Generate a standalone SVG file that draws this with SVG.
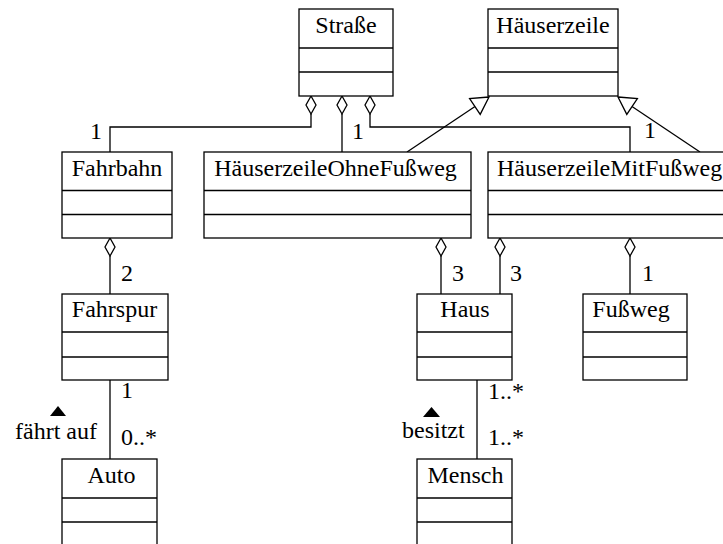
<svg xmlns="http://www.w3.org/2000/svg" width="723" height="544" viewBox="0 0 723 544">
<style>
.box{fill:#fff;stroke:#000;stroke-width:1.3}
.ln{fill:none;stroke:#000;stroke-width:1.3}
.dia{fill:#fff;stroke:#000;stroke-width:1.3}
.tri{fill:#fff;stroke:#000;stroke-width:1.3}
text{font-family:"Liberation Serif","Times New Roman",serif;font-size:24px;fill:#000}
.c{text-anchor:middle}
</style>
<rect width="723" height="544" fill="#fff"/>
<g id="connectors">
  <polyline class="ln" points="311,114 311,127 110,127 110,152"/>
  <line class="ln" x1="342" y1="114" x2="342" y2="152"/>
  <polyline class="ln" points="370,114 370,127 630,127 630,152"/>
  <line class="ln" x1="407" y1="152" x2="475" y2="106.5"/>
  <line class="ln" x1="700" y1="152" x2="632" y2="106.5"/>
  <line class="ln" x1="110" y1="256" x2="110" y2="294"/>
  <line class="ln" x1="441" y1="256" x2="441" y2="294"/>
  <line class="ln" x1="500" y1="256" x2="500" y2="294"/>
  <line class="ln" x1="630" y1="256" x2="630" y2="294"/>
  <line class="ln" x1="110" y1="380" x2="110" y2="459"/>
  <line class="ln" x1="477" y1="380" x2="477" y2="459"/>
  <polygon class="dia" points="311,96 316,105 311,114 306,105"/>
  <polygon class="dia" points="342,96 347,105 342,114 337,105"/>
  <polygon class="dia" points="370,96 375,105 370,114 365,105"/>
  <polygon class="dia" points="110,238 115,247 110,256 105,247"/>
  <polygon class="dia" points="441,238 446,247 441,256 436,247"/>
  <polygon class="dia" points="500,238 505,247 500,256 495,247"/>
  <polygon class="dia" points="630,238 635,247 630,256 625,247"/>
  <polygon class="tri" points="489,97 469.6,98.6 480.2,114.4"/>
  <polygon class="tri" points="618,97 637.4,98.6 626.8,114.4"/>
  <text x="90" y="139">1</text>
  <text x="352" y="139">1</text>
  <text x="644" y="138">1</text>
  <text x="121" y="281">2</text>
  <text x="452" y="281">3</text>
  <text x="510" y="281">3</text>
  <text x="642" y="281">1</text>
  <text x="121" y="398">1</text>
  <text x="121" y="445">0..*</text>
  <text x="15" y="439">fährt auf</text>
  <polygon points="50,416 66,416 58,406" fill="#000"/>
  <text x="488" y="399">1..*</text>
  <text x="488" y="445">1..*</text>
  <text x="402" y="438">besitzt</text>
  <polygon points="423,417 440,417 431.5,407" fill="#000"/>
</g>
<g id="Strasse">
  <rect class="box" x="299" y="9" width="94" height="87"/>
  <line class="ln" x1="299" y1="48" x2="393" y2="48"/>
  <line class="ln" x1="299" y1="72" x2="393" y2="72"/>
  <text class="c" x="346" y="33">Straße</text>
</g>
<g id="Haeuserzeile">
  <rect class="box" x="488" y="9" width="130" height="87"/>
  <line class="ln" x1="488" y1="48" x2="618" y2="48"/>
  <line class="ln" x1="488" y1="72" x2="618" y2="72"/>
  <text class="c" x="553" y="33">Häuserzeile</text>
</g>
<g id="Fahrbahn">
  <rect class="box" x="62" y="152" width="110" height="86"/>
  <line class="ln" x1="62" y1="190.5" x2="172" y2="190.5"/>
  <line class="ln" x1="62" y1="214.5" x2="172" y2="214.5"/>
  <text class="c" x="117" y="175.5">Fahrbahn</text>
</g>
<g id="HaeuserzeileOhneFussweg">
  <rect class="box" x="204" y="152" width="267" height="86"/>
  <line class="ln" x1="204" y1="190.5" x2="471" y2="190.5"/>
  <line class="ln" x1="204" y1="214.5" x2="471" y2="214.5"/>
  <text class="c" x="335.5" y="175.5">HäuserzeileOhneFußweg</text>
</g>
<g id="HaeuserzeileMitFussweg">
  <rect class="box" x="488" y="152" width="245" height="86"/>
  <line class="ln" x1="488" y1="190.5" x2="733" y2="190.5"/>
  <line class="ln" x1="488" y1="214.5" x2="733" y2="214.5"/>
  <text x="497" y="175.5">HäuserzeileMitFußweg</text>
</g>
<g id="Fahrspur">
  <rect class="box" x="62" y="294" width="106" height="86"/>
  <line class="ln" x1="62" y1="332" x2="168" y2="332"/>
  <line class="ln" x1="62" y1="357" x2="168" y2="357"/>
  <text class="c" x="114.5" y="317">Fahrspur</text>
</g>
<g id="Haus">
  <rect class="box" x="417" y="294" width="95" height="86"/>
  <line class="ln" x1="417" y1="332" x2="512" y2="332"/>
  <line class="ln" x1="417" y1="357" x2="512" y2="357"/>
  <text class="c" x="465" y="317">Haus</text>
</g>
<g id="Fussweg">
  <rect class="box" x="583" y="294" width="104" height="86"/>
  <line class="ln" x1="583" y1="332" x2="687" y2="332"/>
  <line class="ln" x1="583" y1="357" x2="687" y2="357"/>
  <text class="c" x="631" y="317">Fußweg</text>
</g>
<g id="Auto">
  <rect class="box" x="62" y="459" width="95" height="87"/>
  <line class="ln" x1="62" y1="498" x2="157" y2="498"/>
  <line class="ln" x1="62" y1="522" x2="157" y2="522"/>
  <text class="c" x="111.5" y="482.5">Auto</text>
</g>
<g id="Mensch">
  <rect class="box" x="417" y="459" width="95" height="87"/>
  <line class="ln" x1="417" y1="498" x2="512" y2="498"/>
  <line class="ln" x1="417" y1="522" x2="512" y2="522"/>
  <text class="c" x="465.5" y="482.5">Mensch</text>
</g>
</svg>
